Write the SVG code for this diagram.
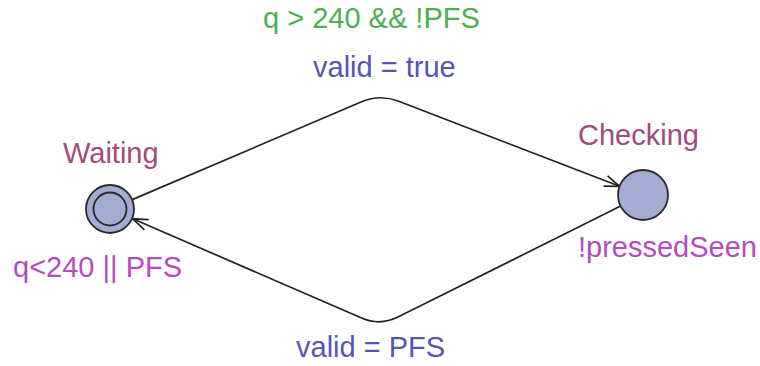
<svg xmlns="http://www.w3.org/2000/svg" width="760" height="366" viewBox="0 0 760 366">
<defs>
<style>
text{font-family:"Liberation Sans",Arial,sans-serif;font-size:29px}
.name{fill:#a04c7c}
.inv{fill:#b44cbf}
.guard{fill:#4caf50}
.assign{fill:#5555b5}
.loc{fill:#a3acd2;stroke:#2a2a2a;stroke-width:1.8}
.edge{fill:none;stroke:#222;stroke-width:1.7}
</style>
<marker id="arr" markerUnits="userSpaceOnUse" markerWidth="20" markerHeight="14" refX="0" refY="0" viewBox="-16 -7 18 14" orient="auto" overflow="visible">
<path d="M -15,-5.5 L 0,0 L -15,5.5" fill="none" stroke="#222" stroke-width="1.7"/>
</marker>
</defs>
<rect width="760" height="366" fill="#fff"/>
<g id="connectors">
<g id="edge-waiting-checking">
<path class="edge" d="M 132.2,199.6 L 361.6,101.8 Q 380,94 398.7,101.2 L 619.6,186.3" marker-end="url(#arr)"/>
<text class="guard" x="263" y="28">q &gt; 240 &amp;&amp; !PFS</text>
<text class="assign" x="313" y="77">valid = true</text>
</g>
<g id="edge-checking-waiting">
<path class="edge" d="M 620.6,206.1 L 397.9,317.1 Q 380,326 361.6,318 L 132.8,218.8" marker-end="url(#arr)"/>
<text class="assign" x="296" y="357">valid = PFS</text>
</g>
</g>
<g id="node-waiting">
<circle class="loc" cx="110" cy="209" r="24"/>
<circle class="loc" cx="110" cy="209" r="16.5"/>
<text class="name" x="63" y="163">Waiting</text>
<text class="inv" x="13" y="277">q&lt;240 || PFS</text>
</g>
<g id="node-checking">
<circle class="loc" cx="643" cy="195" r="25"/>
<text class="name" x="578" y="145">Checking</text>
<text class="inv" x="578" y="257">!pressedSeen</text>
</g>
</svg>
